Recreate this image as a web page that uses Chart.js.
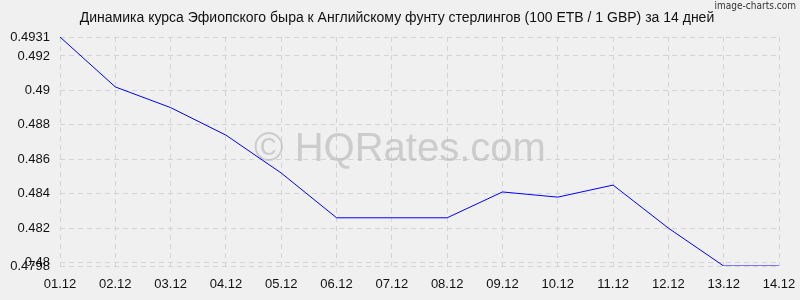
<!DOCTYPE html>
<html>
<head>
<meta charset="utf-8">
<script src="https://cdn.jsdelivr.net/npm/chart.js@4/dist/chart.umd.min.js"></script>
<style>
  html, body { margin: 0; padding: 0; background: #f0f0f0; }
  #wrap { width: 800px; height: 300px; position: relative; }
</style>
</head>
<body>
<div id="wrap"><canvas id="rate-chart"></canvas></div>
<script>
const days = ['01.12', '02.12', '03.12', '04.12', '05.12', '06.12', '07.12',
    '08.12', '09.12', '10.12', '11.12', '12.12', '13.12', '14.12'];
const rates = [0.4931, 0.4902, 0.4890, 0.4874, 0.4852, 0.4826, 0.4826,
    0.4826, 0.4841, 0.4838, 0.4845, 0.4820, 0.4798, 0.4798];
const yTicks = [0.4798, 0.48, 0.482, 0.484, 0.486, 0.488, 0.49, 0.492, 0.4931];
const yLabels = ['0.4798', '0.48', '0.482', '0.484', '0.486', '0.488', '0.49', '0.492', '0.4931'];

const titleText = 'Динамика курса Эфиопского быра к Английскому фунту стерлингов (100 ETB / 1 GBP) за 14 дней';
const font = 'Arial, "Liberation Sans", sans-serif';

// background, watermark, title and the small credit line
const extras = {
    id: 'extras',
    beforeDraw(chart) {
        const ctx = chart.ctx;
        ctx.save();
        ctx.fillStyle = '#f0f0f0';
        ctx.fillRect(0, 0, chart.width, chart.height);
        ctx.restore();
    },
    beforeDatasetsDraw(chart) {
        const ctx = chart.ctx;
        ctx.save();
        ctx.fillStyle = 'rgba(180,180,180,0.6)';
        ctx.font = '40px ' + font;
        ctx.textAlign = 'center';
        ctx.textBaseline = 'middle';
        ctx.fillText('© HQRates.com', 400, 150);
        ctx.restore();
    },
    afterDraw(chart) {
        const ctx = chart.ctx;
        ctx.save();
        ctx.fillStyle = '#111';
        ctx.font = '14px ' + font;
        ctx.textAlign = 'center';
        ctx.textBaseline = 'middle';
        ctx.fillText(titleText, 397, 18);
        ctx.fillStyle = '#333';
        ctx.font = '10px "DejaVu Sans Condensed", "Liberation Sans Narrow", sans-serif';
        ctx.textAlign = 'right';
        ctx.textBaseline = 'top';
        ctx.fillText('image-charts.com', 796, 1);
        ctx.restore();
    }
};

new Chart(document.getElementById('rate-chart'), {
    type: 'line',
    data: {
        labels: days,
        datasets: [
            {
                data: rates,
                borderColor: '#0000ff',
                borderWidth: 1,
                pointRadius: 0,
                tension: 0,
                fill: false
            }
        ]
    },
    options: {
        responsive: true,
        maintainAspectRatio: false,
        animation: false,
        layout: { padding: { left: 0, right: 21, top: 37, bottom: 0 } },
        plugins: {
            legend: { display: false },
            tooltip: { enabled: false },
            title: { display: false }
        },
        scales: {
            x: {
                offset: false,
                grid: { color: '#d4d4d4', offset: false, drawTicks: false },
                border: { display: false, dash: [5, 4] },
                ticks: {
                    color: '#111',
                    font: { family: font, size: 13 },
                    padding: 11,
                    maxRotation: 0,
                    autoSkip: false
                },
                afterFit: (s) => {
                    s.height = 34;
                    s.paddingLeft = 0;
                    s.paddingRight = 0;
                }
            },
            y: {
                min: 0.4798,
                max: 0.4931,
                grid: { color: '#d4d4d4', drawTicks: false },
                border: { display: false, dash: [5, 4] },
                afterBuildTicks: (s) => { s.ticks = yTicks.map((v) => ({ value: v })); },
                ticks: {
                    color: '#111',
                    font: { family: font, size: 13 },
                    padding: 10,
                    callback: (v, i) => yLabels[i]
                },
                afterFit: (s) => { s.width = 60; }
            }
        }
    },
    plugins: [extras]
});
</script>
</body>
</html>
